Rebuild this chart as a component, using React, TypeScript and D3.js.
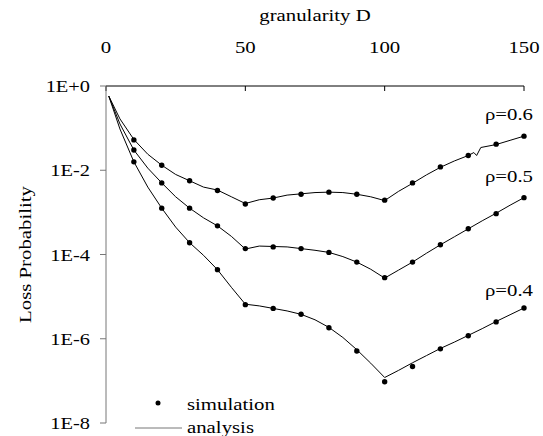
import React from "react";
import * as d3 from "d3";

// granularity D of the simulation points
const simD = [10, 20, 30, 40, 50, 60, 70, 80, 90, 100, 110, 120, 130, 140, 150];
// log10 of the simulated loss probability
const sim06 = [-1.28, -1.88, -2.25, -2.48, -2.8, -2.66, -2.57, -2.52, -2.57, -2.71, -2.3, -1.92, -1.65, -1.38, -1.19];
const sim05 = [-1.52, -2.3, -2.9, -3.32, -3.86, -3.82, -3.86, -3.95, -4.18, -4.55, -4.18, -3.77, -3.39, -3.03, -2.65];
const sim04 = [-1.8, -2.9, -3.72, -4.36, -5.19, -5.28, -5.42, -5.74, -6.29, -7.02, -6.66, -6.24, -5.93, -5.6, -5.27];

// analysis curves (log10 of loss probability)
const anaD06 = [1, 5, 10, 15, 20, 25, 30, 35, 40, 45, 50, 55, 60, 65, 70, 75, 80, 85, 90, 95, 100, 105, 110, 115, 120, 125, 130, 132, 133, 134.5, 140, 145, 150];
const ana06 = [-0.24, -0.78, -1.27, -1.62, -1.88, -2.1, -2.25, -2.4, -2.47, -2.63, -2.79, -2.7, -2.66, -2.59, -2.56, -2.53, -2.52, -2.53, -2.57, -2.63, -2.72, -2.5, -2.31, -2.11, -1.93, -1.78, -1.65, -1.58, -1.65, -1.46, -1.39, -1.29, -1.19];
const anaD = [1, 5, 10, 15, 20, 25, 30, 35, 40, 45, 50, 55, 60, 65, 70, 75, 80, 85, 90, 95, 100, 105, 110, 115, 120, 125, 130, 135, 140, 145, 150];
const ana05 = [-0.24, -0.9, -1.52, -1.95, -2.3, -2.63, -2.9, -3.13, -3.32, -3.57, -3.87, -3.8, -3.81, -3.82, -3.86, -3.9, -3.95, -4.05, -4.18, -4.35, -4.56, -4.37, -4.18, -3.97, -3.77, -3.58, -3.39, -3.2, -3.02, -2.83, -2.65];
const ana04 = [-0.24, -1.02, -1.8, -2.4, -2.9, -3.35, -3.72, -4.02, -4.36, -4.78, -5.18, -5.22, -5.28, -5.34, -5.42, -5.55, -5.73, -5.97, -6.26, -6.58, -6.92, -6.75, -6.57, -6.4, -6.23, -6.08, -5.92, -5.76, -5.59, -5.43, -5.27];

const xTicks = [0, 50, 100, 150];
const yTicks = [1, 1e-2, 1e-4, 1e-6, 1e-8];
const yTickLabels = ["1E+0", "1E-2", "1E-4", "1E-6", "1E-8"];
const rhoLabels = ["ρ=0.6", "ρ=0.5", "ρ=0.4"];

const FONT = "'Liberation Serif', 'Times New Roman', serif";

function Txt({ x, y, children, anchor = "start", size = 16, sx = 1.3, rotate = 0 }: any) {
  return (
    <g transform={`translate(${x},${y}) rotate(${rotate}) scale(${sx},1)`}>
      <text x={0} y={0} textAnchor={anchor} fontFamily={FONT} fontSize={size} fill="#000">
        {children}
      </text>
    </g>
  );
}

export default function App() {
  const width = 543;
  const height = 436;
  const left = 106;
  const right = 524;
  const top = 86;
  const bottom = 423;

  const x = d3.scaleLinear().domain([0, 150]).range([left, right]);
  const y = d3.scaleLog().domain([1, 1e-8]).range([top, bottom]);

  const line = d3
    .line<[number, number]>()
    .x((d) => x(d[0]))
    .y((d) => y(Math.pow(10, d[1])));

  const curves = [
    d3.zip(anaD06, ana06),
    d3.zip(anaD, ana05),
    d3.zip(anaD, ana04),
  ] as [number, number][][];
  const sims = [sim06, sim05, sim04];
  const labelY = [sim06[14], sim05[14], sim04[14]];
  const labelShift = [-16, -16, -12];

  return (
    <svg width={width} height={height} style={{ position: "absolute", left: 0, top: 0 }}>
      <rect width={width} height={height} fill="#fff" />
      {/* top axis */}
      <line x1={left} x2={right} y1={top} y2={top} stroke="#000" strokeWidth={1} />
      {xTicks.map((t) => (
        <g key={t}>
          <line x1={x(t)} x2={x(t)} y1={top} y2={top + 5} stroke="#000" />
          <Txt x={x(t)} y={53} anchor="middle" size={16}>
            {t}
          </Txt>
        </g>
      ))}
      <Txt x={(left + right) / 2} y={21} anchor="middle">
        granularity D
      </Txt>

      {/* left axis */}
      <line x1={left} x2={left} y1={top} y2={bottom} stroke="#777" strokeWidth={1} />
      {yTicks.map((t, i) => (
        <g key={t}>
          <line x1={left - 6} x2={left} y1={y(t)} y2={y(t)} stroke="#777" />
          <Txt x={90} y={y(t) + 6} anchor="end" size={17} sx={1.2}>
            {yTickLabels[i]}
          </Txt>
        </g>
      ))}
      <Txt x={31} y={(top + bottom) / 2} anchor="middle" rotate={-90}>
        Loss Probability
      </Txt>

      {/* analysis curves */}
      {curves.map((c, i) => (
        <path key={i} d={line(c) || ""} fill="none" stroke="#000" strokeWidth={1} />
      ))}

      {/* simulation points */}
      {sims.map((s, i) =>
        s.map((v, j) => (
          <circle key={`${i}-${j}`} cx={x(simD[j])} cy={y(Math.pow(10, v))} r={2.7} fill="#000" />
        ))
      )}

      {/* rho labels */}
      {rhoLabels.map((l, i) => (
        <Txt key={l} x={533} y={y(Math.pow(10, labelY[i])) + labelShift[i]} anchor="end">
          {l}
        </Txt>
      ))}

      {/* legend */}
      <circle cx={158} cy={403} r={2.5} fill="#000" />
      <Txt x={187} y={410}>simulation</Txt>
      <line x1={135} x2={182} y1={428} y2={428} stroke="#777" strokeWidth={1} />
      <Txt x={187} y={433}>analysis</Txt>
    </svg>
  );
}
